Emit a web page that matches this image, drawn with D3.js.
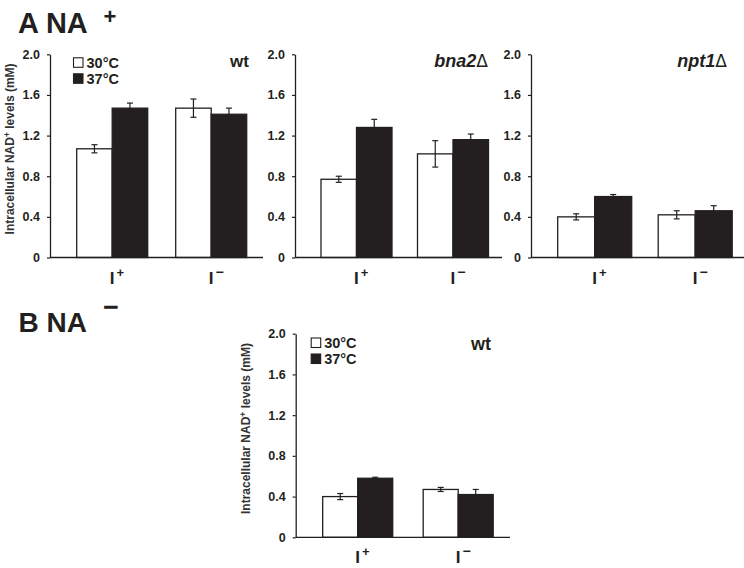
<!DOCTYPE html>
<html><head><meta charset="utf-8">
<script src="https://cdn.jsdelivr.net/npm/d3@7"></script>
<style>body{margin:0;background:#fff}svg{display:block;font-family:Arial,"Liberation Sans",sans-serif}</style>
</head><body>
<svg id="c" width="744" height="568"></svg>
<script>
// ---- data ----
const categories = ["I+", "I−"];
const seriesNames = ["30°C", "37°C"];
const panelTitles = ["wt", "bna2", "npt1", "wt"];
const yTicks = [0, 0.4, 0.8, 1.2, 1.6, 2.0];
// values [panel][category]
const white30 = [[1.07, 1.47], [0.77, 1.02], [0.40, 0.42], [0.40, 0.47]];
const white30Err = [[0.04, 0.09], [0.03, 0.13], [0.03, 0.04], [0.03, 0.02]];
const black37 = [[1.47, 1.41], [1.28, 1.16], [0.60, 0.46], [0.58, 0.42]];
const black37Err = [[0.05, 0.06], [0.08, 0.055], [0.02, 0.05], [0.01, 0.05]];

// ---- layout ----
const panels = [
  {ax: 50,  start: 76.7,  step: 99,    gw: 71, end: 263, y0: 257.5, y2: 54.3, legend: true,  lgx: 23.5, lgy: 3.5, ylabel: true,  ylx: 13.5,  delta: false, tx: 249, ty: 66.5, ts: 17},
  {ax: 295, start: 321,   step: 96.5,  gw: 71, end: 502, y0: 257.5, y2: 54.3, legend: false, ylabel: false, delta: true,  tx: 488, ty: 66.5, ts: 18},
  {ax: 531, start: 557.7, step: 100.5, gw: 74, end: 744, y0: 257.5, y2: 54.3, legend: false, ylabel: false, delta: true,  tx: 727, ty: 66.5, ts: 18},
  {ax: 295.7, start: 322.7, step: 100.5, gw: 70, end: 510, y0: 537.3, y2: 333.7, legend: true, lgx: 15.5, lgy: 4.3, ylabel: true, ylx: 250, delta: false, tx: 491, ty: 349.5, ts: 18}
];
const ink = "#231f20";
const svg = d3.select("#c");

// headings
svg.append("text").attr("x", 18).attr("y", 33).attr("font-size", 29).attr("font-weight", "bold").attr("fill", ink).text("A NA");
svg.append("text").attr("x", 103.5).attr("y", 23.5).attr("font-size", 22).attr("font-weight", "bold").attr("fill", ink).text("+");
svg.append("text").attr("x", 18.5).attr("y", 332).attr("font-size", 28).attr("font-weight", "bold").attr("fill", ink).text("B NA");
svg.append("text").attr("x", 103).attr("y", 315.5).attr("font-size", 27).attr("font-weight", "bold").attr("fill", ink).text("−");

panels.forEach((p, i) => {
  const g = svg.append("g");
  const y = d3.scaleLinear().domain([0, 2]).range([p.y0, p.y2]);
  const x = d3.scaleBand().domain(categories).range([p.start, p.start + p.step + p.gw]).paddingInner((p.step - p.gw) / p.step).paddingOuter(0);
  const xs = d3.scaleBand().domain(seriesNames).range([0, x.bandwidth()]);

  // y axis
  const yAxis = d3.axisLeft(y).tickValues(yTicks).tickSize(3).tickPadding(7).tickSizeOuter(0)
    .tickFormat(d => d === 0 ? "0" : d3.format(".1f")(d));
  const ga = g.append("g").attr("transform", `translate(${p.ax},0)`).call(yAxis);
  ga.select(".domain").attr("stroke", ink).attr("stroke-width", 1.3);
  ga.selectAll(".tick line").attr("stroke", ink).attr("stroke-width", 1.2);
  ga.selectAll(".tick text").attr("font-size", 12.5).attr("font-weight", "bold").attr("fill", ink).attr("font-family", "Arial, 'Liberation Sans', sans-serif");

  // bars
  const rows = categories.map((c, k) => ({c, k}));
  const series = [
    {name: seriesNames[0], vals: white30[i], errs: white30Err[i], fill: "#fff"},
    {name: seriesNames[1], vals: black37[i], errs: black37Err[i], fill: ink}
  ];
  series.forEach(s => {
    g.selectAll(null).data(rows).enter().append("rect")
      .attr("x", d => x(d.c) + xs(s.name))
      .attr("y", d => y(s.vals[d.k]))
      .attr("width", xs.bandwidth())
      .attr("height", d => y(0) - y(s.vals[d.k]))
      .attr("fill", s.fill).attr("stroke", ink).attr("stroke-width", 1.3);
  });
  series.forEach(s => {
    rows.forEach(d => {
      const cx = x(d.c) + xs(s.name) + xs.bandwidth() / 2;
      const v = s.vals[d.k], e = s.errs[d.k];
      g.append("line").attr("x1", cx).attr("x2", cx).attr("y1", y(v + e)).attr("y2", y(v - e)).attr("stroke", ink).attr("stroke-width", 1.2);
      [v + e, v - e].forEach(t => g.append("line").attr("x1", cx - 3).attr("x2", cx + 3).attr("y1", y(t)).attr("y2", y(t)).attr("stroke", ink).attr("stroke-width", 1.2));
    });
  });

  // x axis baseline
  g.append("line").attr("x1", p.ax).attr("x2", p.end).attr("y1", y(0)).attr("y2", y(0)).attr("stroke", ink).attr("stroke-width", 1.3);

  // x labels
  categories.forEach(c => {
    const t = g.append("text").attr("x", x(c) + x.bandwidth() / 2 - 2.5).attr("y", y(0) + 26)
      .attr("font-size", 17).attr("font-weight", "bold").attr("fill", ink);
    t.append("tspan").text("I");
    t.append("tspan").attr("dx", 2).attr("dy", -7).attr("font-size", c === "I+" ? 13 : 14).text(c.slice(1));
  });

  // panel title
  const tt = g.append("text").attr("x", p.tx).attr("y", p.ty).attr("text-anchor", "end")
    .attr("font-size", p.ts).attr("font-weight", "bold").attr("fill", ink);
  if (p.delta) {
    tt.append("tspan").attr("font-style", "italic").text(panelTitles[i]);
    tt.append("tspan").attr("font-weight", "normal").attr("font-family", "'DejaVu Sans', sans-serif").attr("font-size", p.ts - 1).text("Δ");
  } else {
    tt.text(panelTitles[i]);
  }

  // y label
  if (p.ylabel) {
    const yl = g.append("text").attr("transform", `translate(${p.ylx},${(p.y0 + p.y2) / 2 - 7}) rotate(-90)`)
      .attr("text-anchor", "middle").attr("font-size", 12).attr("font-weight", "bold").attr("fill", "#333");
    yl.append("tspan").text("Intracellular NAD");
    yl.append("tspan").attr("dy", -4).attr("font-size", 8.5).text("+");
    yl.append("tspan").attr("dy", 4).text(" levels (mM)");
  }

  // legend
  if (p.legend) {
    const lx = p.ax + p.lgx, ly = p.y2 + p.lgy;
    series.forEach((s, k) => {
      g.append("rect").attr("x", lx).attr("y", ly + k * 16).attr("width", 9.5).attr("height", 9.5)
        .attr("fill", s.fill).attr("stroke", ink).attr("stroke-width", 1.1);
      g.append("text").attr("x", lx + 13).attr("y", ly + k * 16 + 10).attr("font-size", 14.5).attr("font-weight", "bold").attr("fill", ink).text(s.name);
    });
  }
});
</script>
</body></html>
